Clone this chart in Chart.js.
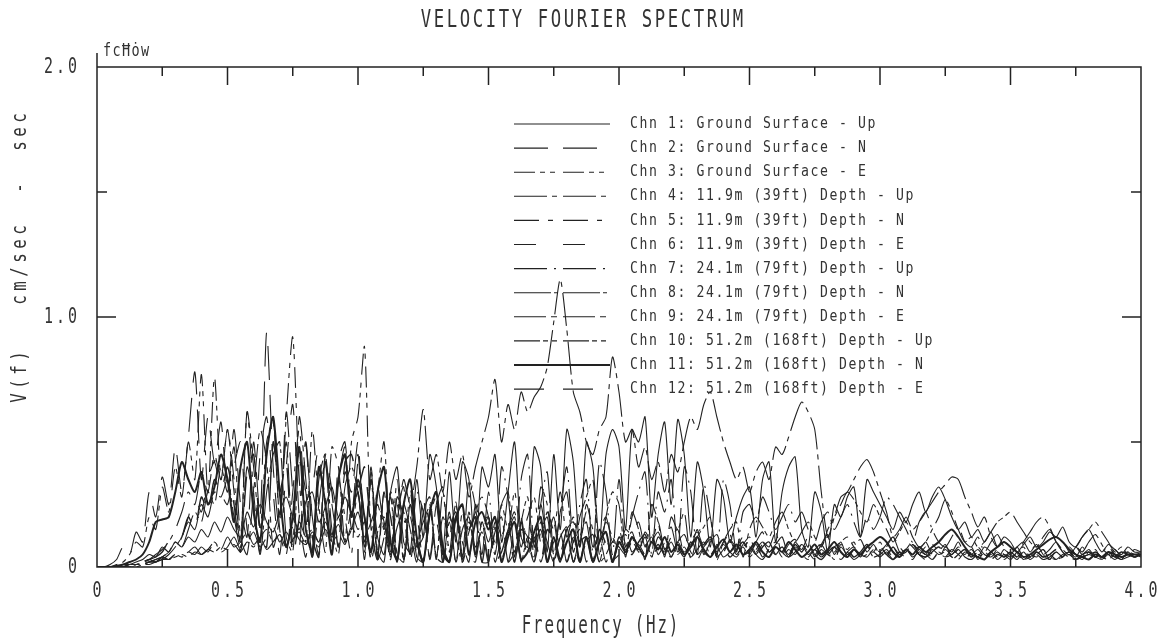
<!DOCTYPE html>
<html>
<head>
<meta charset="utf-8">
<script src="https://cdn.jsdelivr.net/npm/chart.js@4/dist/chart.umd.min.js"></script>
<style>
  body { margin: 0; background: #fff; }
  canvas { display: block; }
</style>
</head>
<body>
<canvas id="chart" width="1163" height="641"></canvas>
<script>
// spectra sampled every 0.025 Hz from 0 to 4.0 Hz (161 values each)
const freqStep = 0.025;

const chn1 = [
  0,0,0,0,0.01,0.01,0.02,0.03,0.05,0.04,0.08,0.06,0.1,0.08,0.12,0.1,0.15,0.12,0.18,0.14,
  0.2,0.15,0.12,0.22,0.16,0.25,0.18,0.14,0.22,0.28,0.2,0.15,0.26,0.3,0.18,0.24,0.32,0.2,0.28,0.22,
  0.3,0.08,0.35,0.12,0.05,0.3,0.4,0.1,0.06,0.35,0.12,0.45,0.32,0.06,0.38,0.1,0.42,0.35,0.05,0.4,
  0.32,0.45,0.1,0.3,0.5,0.12,0.08,0.48,0.4,0.06,0.45,0.15,0.55,0.42,0.08,0.5,0.4,0.1,0.45,0.55,
  0.48,0.15,0.55,0.5,0.6,0.2,0.45,0.58,0.25,0.59,0.45,0.12,0.42,0.3,0.08,0.35,0.28,0.1,0.2,0.28,
  0.32,0.12,0.35,0.42,0.1,0.3,0.4,0.44,0.15,0.08,0.3,0.22,0.06,0.25,0.2,0.28,0.32,0.12,0.35,0.3,
  0.25,0.2,0.15,0.22,0.18,0.25,0.3,0.22,0.28,0.32,0.27,0.2,0.15,0.18,0.12,0.15,0.1,0.14,0.08,0.12,
  0.1,0.06,0.09,0.12,0.08,0.1,0.14,0.12,0.16,0.1,0.08,0.12,0.15,0.1,0.06,0.09,0.07,0.05,0.08,0.06,
  0.06
];
const chn2 = [
  0,0,0.01,0.03,0.08,0.05,0.14,0.1,0.3,0.2,0.36,0.25,0.48,0.3,0.52,0.78,0.35,0.6,0.42,0.58,
  0.3,0.55,0.25,0.12,0.5,0.2,0.94,0.4,0.15,0.62,0.3,0.08,0.48,0.2,0.05,0.42,0.25,0.1,0.38,0.3,
  0.5,0.08,0.4,0.05,0.3,0.04,0.25,0.03,0.2,0.06,0.28,0.03,0.18,0.05,0.22,0.02,0.15,0.2,0.04,0.18,
  0.1,0.2,0.06,0.15,0.22,0.08,0.18,0.1,0.25,0.12,0.2,0.06,0.15,0.18,0.1,0.22,0.08,0.14,0.2,0.1,
  0.15,0.06,0.12,0.18,0.08,0.14,0.05,0.1,0.16,0.06,0.12,0.08,0.15,0.05,0.1,0.13,0.06,0.11,0.08,0.12,
  0.05,0.1,0.14,0.06,0.09,0.12,0.04,0.1,0.07,0.12,0.05,0.09,0.13,0.06,0.1,0.04,0.08,0.11,0.06,0.09,
  0.05,0.08,0.12,0.06,0.04,0.09,0.07,0.1,0.05,0.03,0.08,0.06,0.1,0.05,0.07,0.04,0.08,0.06,0.03,0.07,
  0.05,0.08,0.04,0.06,0.09,0.05,0.03,0.07,0.1,0.06,0.04,0.08,0.05,0.07,0.03,0.06,0.05,0.04,0.06,0.05,
  0.05
];
const chn3 = [
  0,0,0,0.01,0.02,0.05,0.1,0.08,0.2,0.15,0.32,0.22,0.4,0.28,0.5,0.35,0.77,0.3,0.76,0.35,
  0.55,0.3,0.1,0.62,0.4,0.15,0.5,0.58,0.2,0.6,0.92,0.35,0.1,0.55,0.25,0.06,0.48,0.4,0.1,0.5,
  0.6,0.88,0.15,0.3,0.5,0.05,0.35,0.04,0.3,0.08,0.12,0.25,0.03,0.3,0.06,0.2,0.03,0.22,0.05,0.18,
  0.2,0.1,0.25,0.15,0.3,0.12,0.2,0.28,0.1,0.22,0.15,0.3,0.12,0.2,0.08,0.25,0.15,0.1,0.18,0.12,
  0.08,0.15,0.12,0.06,0.14,0.1,0.18,0.07,0.12,0.15,0.05,0.1,0.14,0.08,0.12,0.06,0.1,0.13,0.05,0.09,
  0.12,0.06,0.1,0.08,0.14,0.05,0.09,0.11,0.06,0.1,0.04,0.08,0.12,0.05,0.09,0.07,0.1,0.04,0.08,0.06,
  0.1,0.05,0.08,0.04,0.07,0.1,0.05,0.08,0.03,0.06,0.09,0.04,0.07,0.05,0.08,0.03,0.06,0.04,0.07,0.05,
  0.03,0.06,0.08,0.04,0.05,0.07,0.03,0.06,0.04,0.08,0.05,0.03,0.06,0.04,0.07,0.05,0.03,0.05,0.06,0.04,
  0.05
];
const chn4 = [
  0,0,0,0,0,0.01,0.01,0.02,0.03,0.02,0.04,0.03,0.05,0.04,0.06,0.05,0.08,0.06,0.1,0.07,
  0.12,0.08,0.1,0.14,0.09,0.12,0.15,0.1,0.13,0.08,0.16,0.11,0.09,0.14,0.1,0.18,0.12,0.2,0.1,0.15,
  0.22,0.12,0.18,0.25,0.15,0.3,0.2,0.35,0.25,0.4,0.63,0.35,0.45,0.3,0.5,0.35,0.45,0.28,0.4,0.5,
  0.6,0.75,0.5,0.65,0.55,0.7,0.62,0.68,0.72,0.8,0.98,1.15,0.95,0.7,0.62,0.5,0.45,0.55,0.6,0.84,
  0.7,0.5,0.55,0.4,0.48,0.35,0.42,0.3,0.45,0.38,0.5,0.6,0.55,0.65,0.7,0.6,0.5,0.42,0.35,0.4,
  0.3,0.38,0.42,0.35,0.48,0.45,0.52,0.6,0.66,0.62,0.55,0.3,0.12,0.2,0.28,0.3,0.35,0.4,0.43,0.38,
  0.3,0.22,0.12,0.15,0.2,0.15,0.18,0.22,0.26,0.3,0.33,0.36,0.35,0.28,0.22,0.16,0.2,0.12,0.08,0.1,
  0.08,0.05,0.1,0.14,0.18,0.2,0.16,0.1,0.06,0.04,0.08,0.06,0.1,0.13,0.09,0.05,0.07,0.04,0.05,0.06,
  0.05
];
const chn5 = [
  0,0,0,0,0,0.01,0.01,0.02,0.03,0.05,0.07,0.1,0.15,0.22,0.3,0.25,0.38,0.3,0.45,0.35,
  0.55,0.35,0.1,0.62,0.3,0.06,0.45,0.6,0.15,0.05,0.3,0.55,0.2,0.04,0.4,0.28,0.08,0.35,0.2,0.05,
  0.42,0.2,0.04,0.32,0.15,0.05,0.28,0.02,0.25,0.12,0.02,0.22,0.3,0.05,0.02,0.2,0.1,0.02,0.25,0.15,
  0.2,0.02,0.12,0.18,0.02,0.15,0.1,0.02,0.14,0.2,0.03,0.12,0.02,0.1,0.15,0.02,0.1,0.02,0.12,0.03,
  0.05,0.1,0.14,0.06,0.09,0.04,0.12,0.08,0.05,0.1,0.13,0.06,0.03,0.08,0.11,0.05,0.09,0.06,0.04,0.08,
  0.1,0.05,0.03,0.07,0.1,0.06,0.04,0.08,0.05,0.03,0.07,0.09,0.05,0.04,0.08,0.06,0.03,0.05,0.08,0.04,
  0.06,0.09,0.12,0.08,0.05,0.03,0.07,0.05,0.09,0.06,0.04,0.07,0.05,0.03,0.06,0.08,0.05,0.04,0.06,0.03,
  0.05,0.04,0.06,0.03,0.05,0.07,0.04,0.03,0.05,0.06,0.04,0.05,0.03,0.06,0.04,0.05,0.06,0.04,0.05,0.04,
  0.05
];
const chn6 = [
  0,0,0,0,0,0,0.01,0.01,0.02,0.03,0.04,0.06,0.09,0.12,0.2,0.28,0.22,0.35,0.42,0.3,
  0.25,0.4,0.5,0.15,0.08,0.45,0.6,0.3,0.05,0.4,0.65,0.2,0.04,0.3,0.48,0.12,0.05,0.42,0.5,0.2,
  0.45,0.06,0.35,0.04,0.3,0.03,0.22,0.32,0.02,0.2,0.02,0.18,0.25,0.02,0.15,0.22,0.02,0.12,0.2,0.02,
  0.02,0.18,0.12,0.02,0.15,0.2,0.03,0.14,0.02,0.12,0.18,0.02,0.15,0.1,0.02,0.14,0.03,0.12,0.02,0.1,
  0.12,0.07,0.1,0.05,0.08,0.12,0.06,0.1,0.04,0.09,0.07,0.12,0.05,0.08,0.1,0.04,0.07,0.1,0.06,0.05,
  0.08,0.05,0.09,0.04,0.06,0.08,0.05,0.1,0.06,0.04,0.07,0.05,0.09,0.06,0.03,0.06,0.08,0.05,0.07,0.04,
  0.05,0.07,0.04,0.06,0.1,0.08,0.05,0.03,0.06,0.04,0.07,0.05,0.08,0.06,0.04,0.05,0.03,0.06,0.04,0.05,
  0.04,0.06,0.03,0.05,0.04,0.06,0.05,0.03,0.04,0.06,0.05,0.04,0.03,0.05,0.04,0.06,0.04,0.05,0.03,0.04,
  0.04
];
const chn7 = [
  0,0,0,0,0,0.01,0.01,0.02,0.02,0.03,0.04,0.03,0.05,0.04,0.06,0.08,0.05,0.07,0.1,0.06,
  0.08,0.12,0.07,0.1,0.14,0.08,0.12,0.16,0.1,0.14,0.09,0.18,0.12,0.15,0.1,0.2,0.13,0.17,0.11,0.22,
  0.15,0.2,0.04,0.25,0.18,0.03,0.28,0.2,0.05,0.3,0.22,0.04,0.25,0.32,0.06,0.26,0.04,0.35,0.24,0.05,
  0.3,0.06,0.4,0.28,0.04,0.35,0.45,0.08,0.25,0.38,0.05,0.22,0.4,0.1,0.25,0.35,0.06,0.42,0.3,0.05,
  0.35,0.08,0.2,0.3,0.38,0.05,0.3,0.22,0.35,0.06,0.4,0.3,0.05,0.33,0.2,0.04,0.35,0.25,0.06,0.22,
  0.25,0.18,0.28,0.22,0.15,0.2,0.25,0.18,0.22,0.15,0.1,0.18,0.22,0.15,0.2,0.25,0.18,0.12,0.2,0.15,
  0.2,0.28,0.25,0.2,0.15,0.1,0.18,0.22,0.15,0.1,0.08,0.12,0.16,0.1,0.08,0.12,0.06,0.1,0.13,0.08,
  0.05,0.08,0.1,0.06,0.09,0.05,0.07,0.1,0.06,0.04,0.08,0.05,0.07,0.04,0.06,0.08,0.05,0.03,0.06,0.04,
  0.05
];
const chn8 = [
  0,0,0,0,0,0,0,0.01,0.01,0.02,0.03,0.05,0.08,0.12,0.18,0.15,0.25,0.2,0.3,0.28,
  0.35,0.2,0.08,0.4,0.25,0.05,0.3,0.45,0.5,0.12,0.06,0.42,0.3,0.04,0.35,0.45,0.15,0.05,0.32,0.4,
  0.3,0.1,0.35,0.03,0.12,0.28,0.02,0.25,0.15,0.02,0.22,0.28,0.04,0.02,0.2,0.12,0.02,0.18,0.08,0.14,
  0.02,0.16,0.03,0.14,0.2,0.02,0.12,0.1,0.15,0.02,0.1,0.14,0.02,0.12,0.03,0.1,0.13,0.02,0.05,0.1,
  0.08,0.05,0.1,0.07,0.12,0.04,0.08,0.06,0.1,0.05,0.08,0.04,0.07,0.1,0.05,0.08,0.04,0.06,0.09,0.05,
  0.06,0.09,0.04,0.07,0.05,0.08,0.04,0.06,0.09,0.05,0.07,0.04,0.06,0.03,0.08,0.05,0.07,0.04,0.05,0.06,
  0.04,0.06,0.03,0.05,0.07,0.04,0.06,0.05,0.03,0.06,0.04,0.05,0.07,0.04,0.03,0.05,0.04,0.06,0.03,0.05,
  0.04,0.05,0.03,0.04,0.06,0.04,0.05,0.03,0.04,0.05,0.03,0.04,0.05,0.04,0.03,0.05,0.04,0.03,0.04,0.05,
  0.04
];
const chn9 = [
  0,0,0,0,0,0,0.01,0.01,0.02,0.02,0.04,0.06,0.1,0.08,0.15,0.22,0.18,0.3,0.25,0.4,
  0.3,0.48,0.12,0.05,0.3,0.55,0.42,0.08,0.2,0.5,0.1,0.6,0.35,0.04,0.25,0.42,0.1,0.35,0.48,0.15,
  0.3,0.03,0.38,0.06,0.02,0.3,0.05,0.02,0.25,0.04,0.02,0.2,0.28,0.02,0.18,0.02,0.22,0.05,0.02,0.18,
  0.03,0.14,0.2,0.02,0.06,0.15,0.12,0.02,0.18,0.1,0.02,0.12,0.16,0.02,0.12,0.18,0.02,0.1,0.14,0.02,
  0.1,0.13,0.06,0.09,0.05,0.1,0.14,0.07,0.04,0.1,0.06,0.09,0.12,0.06,0.04,0.09,0.07,0.11,0.05,0.08,
  0.04,0.07,0.1,0.06,0.08,0.04,0.07,0.05,0.09,0.06,0.03,0.07,0.05,0.08,0.1,0.12,0.08,0.05,0.04,0.07,
  0.06,0.04,0.08,0.05,0.06,0.09,0.05,0.04,0.07,0.05,0.06,0.04,0.03,0.06,0.05,0.07,0.04,0.05,0.06,0.04,
  0.05,0.03,0.06,0.04,0.05,0.03,0.04,0.06,0.04,0.05,0.03,0.04,0.05,0.06,0.04,0.03,0.05,0.04,0.05,0.04,
  0.05
];
const chn10 = [
  0,0,0,0,0,0,0.01,0.01,0.02,0.02,0.03,0.03,0.04,0.05,0.04,0.06,0.05,0.07,0.06,0.08,
  0.07,0.09,0.06,0.1,0.08,0.12,0.07,0.1,0.13,0.08,0.11,0.14,0.09,0.12,0.08,0.15,0.1,0.13,0.09,0.16,
  0.12,0.18,0.03,0.14,0.2,0.04,0.16,0.22,0.05,0.1,0.18,0.24,0.04,0.2,0.12,0.25,0.05,0.14,0.22,0.28,
  0.2,0.05,0.25,0.3,0.06,0.18,0.28,0.04,0.32,0.25,0.05,0.22,0.3,0.06,0.2,0.28,0.35,0.05,0.2,0.3,
  0.25,0.04,0.22,0.15,0.03,0.25,0.18,0.04,0.2,0.15,0.22,0.03,0.12,0.16,0.2,0.03,0.1,0.15,0.18,0.04,
  0.15,0.2,0.16,0.12,0.18,0.22,0.15,0.1,0.14,0.18,0.12,0.08,0.15,0.2,0.25,0.3,0.27,0.22,0.18,0.25,
  0.2,0.15,0.1,0.14,0.18,0.12,0.08,0.1,0.15,0.2,0.27,0.22,0.15,0.1,0.12,0.08,0.1,0.14,0.18,0.2,
  0.22,0.18,0.14,0.1,0.08,0.12,0.15,0.1,0.07,0.05,0.08,0.12,0.15,0.18,0.14,0.1,0.06,0.08,0.05,0.07,
  0.06
];
const chn11 = [
  0,0,0,0.005,0.01,0.02,0.03,0.05,0.1,0.18,0.19,0.2,0.3,0.42,0.35,0.3,0.38,0.25,0.32,0.45,
  0.35,0.18,0.4,0.5,0.22,0.1,0.45,0.6,0.3,0.08,0.2,0.48,0.15,0.06,0.4,0.25,0.05,0.35,0.45,0.2,
  0.35,0.2,0.06,0.3,0.4,0.1,0.03,0.25,0.35,0.12,0.02,0.22,0.3,0.08,0.02,0.2,0.25,0.05,0.18,0.22,
  0.15,0.2,0.02,0.12,0.18,0.03,0.06,0.14,0.2,0.02,0.12,0.03,0.1,0.15,0.02,0.12,0.02,0.1,0.14,0.02,
  0.1,0.06,0.12,0.08,0.04,0.1,0.07,0.12,0.06,0.09,0.05,0.08,0.12,0.07,0.04,0.08,0.11,0.06,0.09,0.05,
  0.07,0.1,0.06,0.04,0.08,0.06,0.1,0.07,0.04,0.06,0.09,0.05,0.07,0.1,0.06,0.04,0.07,0.05,0.08,0.1,
  0.12,0.1,0.06,0.04,0.07,0.05,0.08,0.06,0.08,0.1,0.13,0.15,0.12,0.08,0.05,0.04,0.03,0.06,0.08,0.1,
  0.08,0.06,0.04,0.05,0.07,0.09,0.11,0.12,0.1,0.07,0.05,0.04,0.03,0.05,0.04,0.06,0.05,0.04,0.05,0.05,
  0.05
];
const chn12 = [
  0,0,0,0,0,0.01,0.01,0.02,0.03,0.04,0.06,0.1,0.08,0.12,0.2,0.15,0.28,0.22,0.35,0.3,
  0.4,0.25,0.06,0.38,0.45,0.15,0.08,0.5,0.3,0.42,0.05,0.2,0.5,0.12,0.04,0.45,0.3,0.08,0.42,0.45,
  0.32,0.4,0.15,0.03,0.3,0.2,0.02,0.25,0.32,0.1,0.02,0.22,0.28,0.06,0.02,0.2,0.1,0.15,0.2,0.02,
  0.18,0.02,0.06,0.14,0.02,0.18,0.03,0.12,0.02,0.15,0.1,0.02,0.14,0.02,0.1,0.12,0.02,0.15,0.09,0.02,
  0.12,0.08,0.05,0.1,0.13,0.06,0.09,0.05,0.12,0.08,0.04,0.1,0.06,0.09,0.12,0.05,0.08,0.04,0.07,0.1,
  0.06,0.04,0.08,0.1,0.05,0.07,0.04,0.09,0.06,0.1,0.05,0.03,0.06,0.08,0.05,0.07,0.04,0.06,0.09,0.05,
  0.08,0.05,0.03,0.06,0.04,0.07,0.05,0.04,0.06,0.08,0.05,0.03,0.05,0.07,0.04,0.06,0.05,0.03,0.05,0.04,
  0.06,0.04,0.05,0.03,0.06,0.04,0.05,0.07,0.05,0.04,0.03,0.05,0.06,0.04,0.05,0.03,0.04,0.06,0.05,0.04,
  0.05
];

const channelLabels = [
  "Chn 1: Ground Surface - Up",
  "Chn 2: Ground Surface - N",
  "Chn 3: Ground Surface - E",
  "Chn 4: 11.9m (39ft) Depth - Up",
  "Chn 5: 11.9m (39ft) Depth - N",
  "Chn 6: 11.9m (39ft) Depth - E",
  "Chn 7: 24.1m (79ft) Depth - Up",
  "Chn 8: 24.1m (79ft) Depth - N",
  "Chn 9: 24.1m (79ft) Depth - E",
  "Chn 10: 51.2m (168ft) Depth - Up",
  "Chn 11: 51.2m (168ft) Depth - N",
  "Chn 12: 51.2m (168ft) Depth - E",
];
const channelValues = [chn1, chn2, chn3, chn4, chn5, chn6, chn7, chn8, chn9, chn10, chn11, chn12];

const xTickValues = [0, 0.5, 1.0, 1.5, 2.0, 2.5, 3.0, 3.5, 4.0];
const xTickLabels = ["0", "0.5", "1.0", "1.5", "2.0", "2.5", "3.0", "3.5", "4.0"];
const xMinorValues = [0.25, 0.75, 1.25, 1.75, 2.25, 2.75, 3.25, 3.75];
const yTickValues = [0, 1.0, 2.0];
const yTickLabels = ["0", "1.0", "2.0"];
const yMinorValues = [0.5, 1.5];

const chartTitle = "VELOCITY FOURIER SPECTRUM";
const xTitle = "Frequency (Hz)";
const yTitle = "V(f)   cm/sec  -  sec";
const cornerNote = "fcĦȯw";

// line patterns, same order as the channels
const dashes = [
  [], [34, 15], [21, 5, 5, 5, 5, 8], [33, 5, 5, 6], [25, 9, 5, 10], [22, 27],
  [33, 7, 2, 7], [37, 3, 4, 5], [32, 5, 6, 6], [26, 3, 5, 4, 5, 6], [], [30, 19],
];
const widths = [1.1, 1.1, 1.1, 1.1, 1.1, 1.1, 1.1, 1.1, 1.1, 1.1, 2, 1.4];

const ink = "#222";
const textInk = "#333";
const fontName = '"DejaVu Sans Mono", monospace';

// plotter style text: narrow glyphs on a fixed pitch
function plotText(ctx, str, x, y, size, pitch, sx, align, angle) {
  ctx.save();
  ctx.translate(x, y);
  if (angle) ctx.rotate(angle);
  ctx.scale(sx, 1);
  ctx.font = size + "px " + fontName;
  ctx.letterSpacing = "0px";
  const adv = ctx.measureText("0").width;
  const ls = pitch / sx - adv;
  ctx.letterSpacing = ls + "px";
  const w = str.length * adv + (str.length - 1) * ls;
  let x0 = 0;
  if (align === "center") x0 = -w / 2;
  if (align === "right") x0 = -w;
  ctx.textAlign = "left";
  ctx.textBaseline = "middle";
  ctx.fillStyle = textInk;
  ctx.fillText(str, x0, 0);
  ctx.restore();
}

const plotterFrame = {
  id: "plotterFrame",
  afterDatasetsDraw(chart) {
    const ctx = chart.ctx;
    // legend block inside the plot
    chart.data.datasets.forEach((ds, i) => {
      const y = 124 + i * 24.1;
      ctx.save();
      ctx.strokeStyle = ink;
      ctx.lineWidth = ds.borderWidth;
      ctx.setLineDash(ds.borderDash);
      ctx.beginPath();
      ctx.moveTo(514, y);
      ctx.lineTo(610, y);
      ctx.stroke();
      ctx.restore();
      plotText(ctx, ds.label, 630, y, 16, 9.5, 0.82, "left");
    });
  },
  afterDraw(chart) {
    const ctx = chart.ctx;
    const xs = chart.scales.x;
    const ys = chart.scales.y;
    const a = chart.chartArea;
    ctx.save();
    ctx.strokeStyle = ink;
    ctx.lineWidth = 1.5;
    ctx.setLineDash([]);
    ctx.beginPath();
    ctx.moveTo(a.left, a.top - 14);
    ctx.lineTo(a.left, a.bottom);
    ctx.lineTo(a.right, a.bottom);
    ctx.lineTo(a.right, a.top);
    ctx.lineTo(a.left, a.top);
    // inward ticks
    xTickValues.forEach((v) => {
      const px = xs.getPixelForValue(v);
      ctx.moveTo(px, a.bottom);
      ctx.lineTo(px, a.bottom - 18);
      ctx.moveTo(px, a.top);
      ctx.lineTo(px, a.top + 18);
    });
    xMinorValues.forEach((v) => {
      const px = xs.getPixelForValue(v);
      ctx.moveTo(px, a.bottom);
      ctx.lineTo(px, a.bottom - 9);
      ctx.moveTo(px, a.top);
      ctx.lineTo(px, a.top + 9);
    });
    yTickValues.forEach((v) => {
      const py = ys.getPixelForValue(v);
      ctx.moveTo(a.left, py);
      ctx.lineTo(a.left + 19, py);
      ctx.moveTo(a.right, py);
      ctx.lineTo(a.right - 19, py);
    });
    yMinorValues.forEach((v) => {
      const py = ys.getPixelForValue(v);
      ctx.moveTo(a.left, py);
      ctx.lineTo(a.left + 10, py);
      ctx.moveTo(a.right, py);
      ctx.lineTo(a.right - 10, py);
    });
    ctx.stroke();
    ctx.restore();

    xTickValues.forEach((v, i) => {
      plotText(ctx, xTickLabels[i], xs.getPixelForValue(v), a.bottom + 24, 22, 12, 0.68, "center");
    });
    yTickValues.forEach((v, i) => {
      plotText(ctx, yTickLabels[i], a.left - 20, ys.getPixelForValue(v), 22, 12, 0.68, "right");
    });
    plotText(ctx, chartTitle, 582, 21, 24, 13, 0.72, "center");
    plotText(ctx, xTitle, 600, 627, 24, 11.3, 0.66, "center");
    plotText(ctx, yTitle, 20, 258, 22, 14, 0.72, "center", -Math.PI / 2);
    plotText(ctx, cornerNote, 103, 51, 18, 9.5, 0.75, "left");
  },
};

const datasets = channelValues.map((values, i) => ({
  label: channelLabels[i],
  data: values.map((v, k) => ({ x: k * freqStep, y: v })),
  borderColor: ink,
  borderWidth: widths[i],
  borderDash: dashes[i],
  pointRadius: 0,
  fill: false,
  tension: 0.25,
}));

new Chart(document.getElementById("chart"), {
  type: "line",
  data: { datasets: datasets },
  options: {
    responsive: false,
    animation: false,
    layout: { padding: { left: 97, right: 22, top: 67, bottom: 74 } },
    scales: {
      x: { type: "linear", min: 0, max: 4, display: false },
      y: { type: "linear", min: 0, max: 2, display: false },
    },
    plugins: {
      legend: { display: false },
      title: { display: false },
      tooltip: { enabled: false },
    },
  },
  plugins: [plotterFrame],
});
</script>
</body>
</html>
